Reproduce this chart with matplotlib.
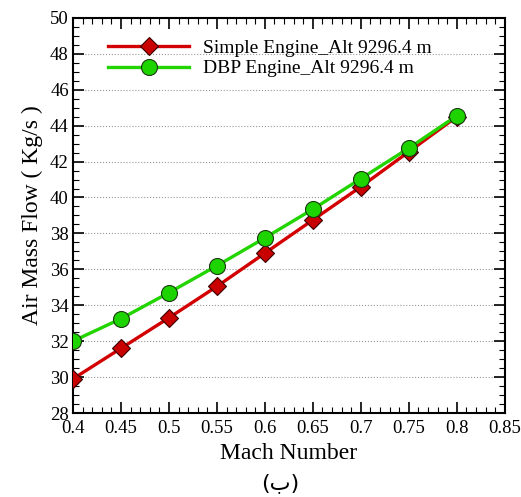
import matplotlib
matplotlib.use("Agg")
import matplotlib.pyplot as plt
from matplotlib.ticker import MultipleLocator

plt.rcParams["font.family"] = ["Liberation Serif", "DejaVu Sans"]

mach = [0.4, 0.45, 0.5, 0.55, 0.6, 0.65, 0.7, 0.75, 0.8]
simple_flow = [29.9, 31.6, 33.3, 35.05, 36.9, 38.75, 40.6, 42.55, 44.5]
dbp_flow = [32.0, 33.25, 34.7, 36.2, 37.75, 39.35, 41.05, 42.75, 44.55]
series_labels = ["Simple Engine_Alt 9296.4 m", "DBP Engine_Alt 9296.4 m"]

fig = plt.figure(figsize=(5.21, 4.97), dpi=100)
ax = fig.add_axes([0.140, 0.169, 0.829, 0.795])

ax.plot(mach, simple_flow, color="#d20000", lw=2.4, marker="D", ms=9,
        mfc="#c80000", mec="#3a0000", mew=0.8, label=series_labels[0], zorder=3)
ax.plot(mach, dbp_flow, color="#22d400", lw=2.4, marker="o", ms=11.5,
        mfc="#1ed400", mec="#1a3a10", mew=0.8, label=series_labels[1], zorder=4)

ax.set_xlim(0.4, 0.85)
ax.set_ylim(28, 50)
ax.xaxis.set_minor_locator(MultipleLocator(0.01))
ax.yaxis.set_major_locator(MultipleLocator(2))
ax.yaxis.set_minor_locator(MultipleLocator(0.5))
ax.set_xticks([0.4, 0.45, 0.5, 0.55, 0.6, 0.65, 0.7, 0.75, 0.8, 0.85])
ax.set_xticklabels(["0.4", "0.45", "0.5", "0.55", "0.6", "0.65", "0.7", "0.75", "0.8", "0.85"])
ax.tick_params(which="both", direction="in", top=True, right=True, labelsize=13.5)
ax.tick_params(which="major", length=8, width=1.2)
ax.tick_params(which="minor", length=4, width=0.8)
ax.tick_params(axis="x", pad=5)
ax.tick_params(axis="y", pad=3)
ax.grid(axis="y", which="major", ls=":", color="#999999", lw=0.8)
for s in ax.spines.values():
    s.set_linewidth(1.5)

ax.set_xlabel("Mach Number", fontsize=17, labelpad=4)
ax.set_ylabel("Air Mass Flow ( Kg/s )", fontsize=17, labelpad=5)

ax.legend(loc="upper left", bbox_to_anchor=(0.04, 0.99), frameon=False,
          fontsize=14, handlelength=4.2, labelspacing=0.15, handletextpad=0.7)

fig.text(0.537, 0.028, "(ب)", ha="center", va="center", fontsize=16,
         family=["DejaVu Sans"])

fig.savefig("out.png", dpi=100)
